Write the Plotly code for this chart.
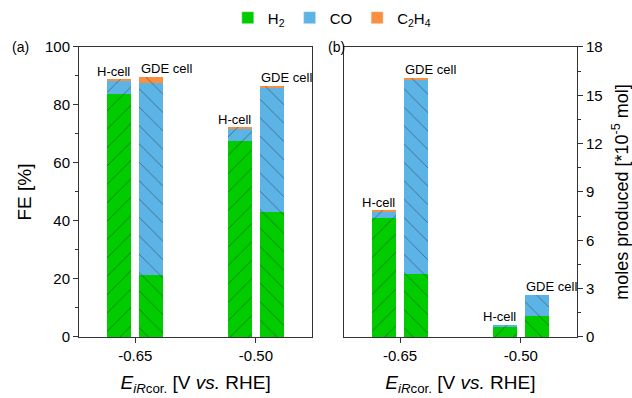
import plotly.graph_objects as go

# ---- data ----
potentials = [-0.65, -0.50]
potential_labels = ["-0.65", "-0.50"]
cells = ["H-cell", "GDE cell"]

# Faradaic efficiency [%]  (order: [H-cell, GDE cell] per potential)
fe_h2 = {"H-cell": [83.8, 67.6], "GDE cell": [21.4, 43.1]}
fe_co = {"H-cell": [4.5, 4.4], "GDE cell": [66.2, 43.1]}
fe_c2h4 = {"H-cell": [0.4, 0.1], "GDE cell": [2.1, 0.3]}

# moles produced [*1e-5 mol]
mol_h2 = {"H-cell": [7.4, 0.67], "GDE cell": [3.9, 1.32]}
mol_co = {"H-cell": [0.4, 0.06], "GDE cell": [12.1, 1.28]}
mol_c2h4 = {"H-cell": [0.05, 0.0], "GDE cell": [0.1, 0.0]}

products = ["H<sub>2</sub>", "CO", "C<sub>2</sub>H<sub>4</sub>"]
colors = ["#00cc00", "#5cb3e6", "#fa8f40"]

# ---- layout constants ----
OFFSET = 0.02
BARW = 0.03
patterns = {"H-cell": "/", "GDE cell": "\\"}

fig = go.Figure()

def add_panel(series, xa, ya):
    for prod, col, data in zip(products, colors, series):
        for cell in cells:
            sign = -1 if cell == "H-cell" else 1
            xs = [p + sign * OFFSET for p in potentials]
            fig.add_trace(go.Bar(
                x=xs, y=data[cell], width=BARW,
                marker=dict(color=col, line=dict(width=0),
                            pattern=dict(shape=patterns[cell], size=13, solidity=0.06,
                                         fgcolor="#1e1e1e", fgopacity=0.55)),
                showlegend=False, xaxis=xa, yaxis=ya, hoverinfo="skip"))
    # labels
    for cell in cells:
        for i, p in enumerate(potentials):
            tot = sum(s[cell][i] for s in series)
            if cell == "H-cell":
                x = p - OFFSET + BARW / 2 + 0.001
                anchor = "right"
            else:
                x = p + OFFSET - BARW / 2 - 0.001
                anchor = "left"
            fig.add_annotation(x=x, y=tot, xref=xa, yref=ya, text=cell,
                               showarrow=False, xanchor=anchor, yanchor="bottom",
                               yshift=-1, font=dict(size=13, color="black"))

add_panel([fe_h2, fe_co, fe_c2h4], "x", "y")
add_panel([mol_h2, mol_co, mol_c2h4], "x2", "y2")

# legend-only traces (solid swatches)
for prod, col in zip(products, colors):
    fig.add_trace(go.Bar(x=[None], y=[None], name=prod, marker=dict(color=col),
                         showlegend=True, xaxis="x", yaxis="y"))

axis_line = dict(showline=True, linecolor="#333", linewidth=1, mirror=True,
                 ticks="outside", tickcolor="#333", ticklen=5, showgrid=False,
                 zeroline=False, automargin=False, tickfont=dict(size=15, color="black"))

xtitle = "<i>E</i><sub><i>iR</i>cor.</sub> [V <i>vs.</i> RHE]"

fig.update_layout(
    width=632, height=398,
    margin=dict(l=0, r=0, t=0, b=0),
    paper_bgcolor="white", plot_bgcolor="white",
    barmode="stack", bargap=0,
    font=dict(family="Liberation Sans, Arial, sans-serif", color="black"),
    showlegend=True,
    legend=dict(orientation="h", x=0.525, xanchor="center", y=0.955, yanchor="middle",
                font=dict(size=15), traceorder="normal"),
    xaxis=dict(domain=[0.125, 0.494], range=[-0.72, -0.43],
               tickvals=potentials, ticktext=potential_labels,
               title=dict(text=xtitle, font=dict(size=19), standoff=12), **axis_line),
    yaxis=dict(domain=[0.1533, 0.882], range=[0, 100], dtick=20,
               minor=dict(dtick=10, ticks="outside", ticklen=3, tickcolor="#333"),
               title=dict(text="FE [%]", font=dict(size=19), standoff=8), **axis_line),
    xaxis2=dict(domain=[0.544, 0.913], range=[-0.72, -0.43], anchor="y2",
                tickvals=potentials, ticktext=potential_labels,
                title=dict(text=xtitle, font=dict(size=19), standoff=12), **axis_line),
    yaxis2=dict(domain=[0.1533, 0.882], range=[0, 18], dtick=3, anchor="x2", side="right",
                minor=dict(dtick=1.5, ticks="outside", ticklen=3, tickcolor="#333"),
                title=dict(text="moles produced [*10<sup>-5</sup> mol]", font=dict(size=18),
                           standoff=14), **axis_line),
)

fig.add_annotation(x=10 / 632, y=1 - 47 / 398, xref="paper", yref="paper", text="(a)",
                   showarrow=False, xanchor="left", yanchor="middle", font=dict(size=14))
fig.add_annotation(x=326 / 632, y=1 - 47 / 398, xref="paper", yref="paper", text="(b)",
                   showarrow=False, xanchor="left", yanchor="middle", font=dict(size=14))

fig.write_html("out.html", config={"displayModeBar": False},
               post_script="document.body.style.margin='0';document.body.style.padding='0';")
